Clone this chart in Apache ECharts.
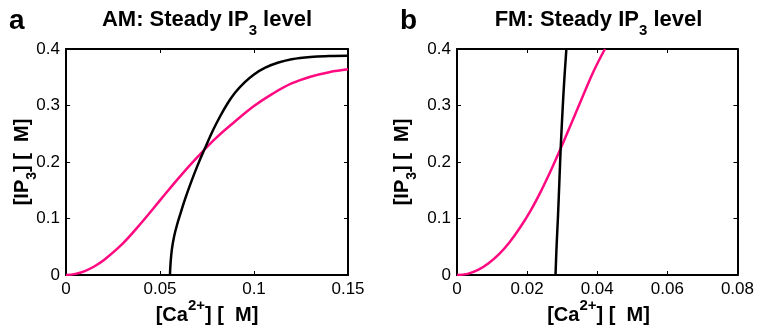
<!DOCTYPE html>
<html><head><meta charset="utf-8">
<script src="https://cdn.jsdelivr.net/npm/echarts@6/dist/echarts.min.js"></script>
<style>html,body{margin:0;padding:0;background:#fff}#c{width:757px;height:332px}</style>
</head><body><div id="c"></div>
<script>
// ---- data ----
const yTickLabels = ['0', '0.1', '0.2', '0.3', '0.4'];
const amXTickLabels = ['0', '0.05', '0.1', '0.15'];
const fmXTickLabels = ['0', '0.02', '0.04', '0.06', '0.08'];

// Panel a (AM): pink curve
const amPinkCa = [0, 0.005, 0.01, 0.015, 0.02, 0.03, 0.04, 0.05, 0.06, 0.07, 0.08, 0.09, 0.1, 0.11, 0.12, 0.13, 0.14, 0.15];
const amPinkIp = [0, 0.002, 0.007, 0.015, 0.026, 0.055, 0.092, 0.132, 0.172, 0.209, 0.243, 0.272, 0.299, 0.321, 0.339, 0.351, 0.359, 0.364];
// Panel a (AM): black curve
const amBlackCa = [0.0553, 0.0556, 0.0563, 0.0575, 0.059, 0.061, 0.0635, 0.0665, 0.07, 0.074, 0.078, 0.082, 0.086, 0.09, 0.095, 0.1, 0.106, 0.113, 0.12, 0.13, 0.14, 0.15];
const amBlackIp = [0, 0.02, 0.045, 0.068, 0.088, 0.11, 0.136, 0.164, 0.194, 0.225, 0.255, 0.281, 0.304, 0.323, 0.341, 0.355, 0.367, 0.376, 0.382, 0.386, 0.3875, 0.388];

// Panel b (FM): pink curve
const fmPinkCa = [0, 0.003, 0.006, 0.009, 0.012, 0.015, 0.018, 0.021, 0.024, 0.027, 0.03, 0.033, 0.036, 0.039, 0.0422];
const fmPinkIp = [0, 0.002, 0.009, 0.021, 0.037, 0.058, 0.084, 0.114, 0.149, 0.188, 0.23, 0.274, 0.318, 0.361, 0.4];
// Panel b (FM): black curve
const fmBlackCa = [0.0281, 0.0284, 0.0288, 0.0292, 0.0296, 0.0301, 0.0306, 0.0312];
const fmBlackIp = [0, 0.05, 0.103, 0.165, 0.227, 0.29, 0.345, 0.4];

const PINK = '#ff0a80';
const FONT = '"Liberation Sans", Arial, Helvetica, sans-serif';

function pairs(xs, ys) { return xs.map((x, i) => [x, ys[i]]); }
function labelFmt(labels, step) { return v => labels[Math.round(v / step)] ?? ''; }

const grids = [
  { left: 66, top: 49, width: 282, height: 226 },
  { left: 457, top: 49, width: 283, height: 226 }
];

function xAx(grid, max, step, labels, pos) {
  return {
    type: 'value', gridIndex: grid, min: 0, max: max, interval: step, position: pos,
    axisLine: { show: true, onZero: false, lineStyle: { color: '#000', width: 2 } },
    axisTick: { show: true, inside: true, length: 4, lineStyle: { color: '#000', width: 1 } },
    axisLabel: { show: pos === 'bottom', color: '#000', fontSize: 17, fontFamily: FONT, margin: 6,
      formatter: labelFmt(labels, step), showMinLabel: true, showMaxLabel: true },
    splitLine: { show: false }
  };
}
function yAx(grid, pos) {
  return {
    type: 'value', gridIndex: grid, min: 0, max: 0.4, interval: 0.1, position: pos,
    axisLine: { show: true, onZero: false, lineStyle: { color: '#000', width: 2 } },
    axisTick: { show: true, inside: true, length: 4, lineStyle: { color: '#000', width: 1 } },
    axisLabel: { show: pos === 'left', color: '#000', fontSize: 17, fontFamily: FONT, margin: 6,
      formatter: labelFmt(yTickLabels, 0.1), showMinLabel: true, showMaxLabel: true },
    splitLine: { show: false }
  };
}

function line(xi, yi, xs, ys, color) {
  return {
    type: 'line', xAxisIndex: xi, yAxisIndex: yi, data: pairs(xs, ys),
    showSymbol: false, smooth: 0.4, clip: true,
    lineStyle: { color: color, width: 2.5 }, itemStyle: { color: color }
  };
}

// rich text styles (token 'height' sets where the glyphs sit inside the line)
const titleRich = {
  m: { fontSize: 22, fontWeight: 'bold', fontFamily: FONT, height: 24, verticalAlign: 'top', fill: '#000' },
  s: { fontSize: 15, fontWeight: 'bold', fontFamily: FONT, height: 46, verticalAlign: 'top', fill: '#000' }
};
const nameRich = {
  m: { fontSize: 20, fontWeight: 'bold', fontFamily: FONT, height: 24, verticalAlign: 'top', fill: '#000' },
  s: { fontSize: 14, fontWeight: 'bold', fontFamily: FONT, height: 44, verticalAlign: 'top', fill: '#000' }
};
const supRich = {
  m: { fontSize: 20, fontWeight: 'bold', fontFamily: FONT, height: 24, verticalAlign: 'bottom', fill: '#000' },
  p: { fontSize: 15, fontWeight: 'bold', fontFamily: FONT, height: 42, verticalAlign: 'bottom', fill: '#000' }
};

function title(x, txtA) {
  return { type: 'text', x: x, y: 8, style: { text: '{m|' + txtA + ': Steady IP}{s|3}{m| level}', rich: titleRich, align: 'center', verticalAlign: 'top' } };
}
function yName(x) {
  return { type: 'text', x: x, y: 162, rotation: Math.PI / 2,
    style: { text: '{m|[IP}{s|3}{m|] [  M]}', rich: nameRich, align: 'center', verticalAlign: 'top' } };
}
function xName(x) {
  return { type: 'text', x: x, y: 327, style: { text: '{m|[Ca}{p|2+}{m|] [  M]}', rich: supRich, align: 'center', verticalAlign: 'bottom' } };
}

const chart = echarts.init(document.getElementById('c'), null, { renderer: 'canvas' });
chart.setOption({
  animation: false,
  backgroundColor: '#fff',
  grid: grids,
  xAxis: [
    xAx(0, 0.15, 0.05, amXTickLabels, 'bottom'),
    xAx(0, 0.15, 0.05, amXTickLabels, 'top'),
    xAx(1, 0.08, 0.02, fmXTickLabels, 'bottom'),
    xAx(1, 0.08, 0.02, fmXTickLabels, 'top')
  ],
  yAxis: [
    yAx(0, 'left'), yAx(0, 'right'),
    yAx(1, 'left'), yAx(1, 'right')
  ],
  series: [
    line(0, 0, amPinkCa, amPinkIp, PINK),
    line(0, 0, amBlackCa, amBlackIp, '#000'),
    line(2, 2, fmPinkCa, fmPinkIp, PINK),
    line(2, 2, fmBlackCa, fmBlackIp, '#000')
  ],
  graphic: [
    { type: 'text', x: 9, y: 21, style: { text: 'a', fontSize: 28, fontWeight: 'bold', fontFamily: FONT, fill: '#000', align: 'left', verticalAlign: 'middle' } },
    { type: 'text', x: 400, y: 21, style: { text: 'b', fontSize: 28, fontWeight: 'bold', fontFamily: FONT, fill: '#000', align: 'left', verticalAlign: 'middle' } },
    title(207, 'AM'),
    title(598.5, 'FM'),
    yName(10),
    yName(390),
    xName(207),
    xName(598.5)
  ]
});
</script>
</body></html>
